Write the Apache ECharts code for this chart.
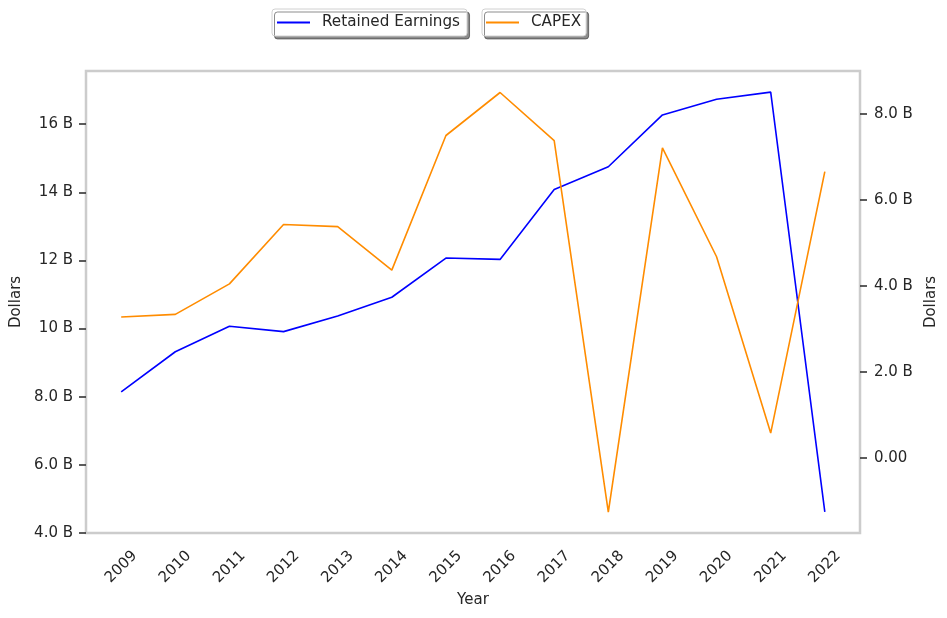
<!DOCTYPE html>
<html>
<head>
<meta charset="utf-8">
<script src="https://cdn.jsdelivr.net/npm/echarts@6/dist/echarts.min.js"></script>
<style>
html,body{margin:0;padding:0;background:#fff;}
#chart{width:947px;height:618px;}
</style>
</head>
<body>
<div id="chart"></div>
<script>
const years = [2009, 2010, 2011, 2012, 2013, 2014, 2015, 2016, 2017, 2018, 2019, 2020, 2021, 2022];
const retainedEarnings = [8.14, 9.32, 10.07, 9.91, 10.37, 10.92, 12.07, 12.03, 14.08, 14.75, 16.27, 16.73, 16.94, 4.62];
const capex = [3.28, 3.34, 4.05, 5.43, 5.38, 4.37, 7.50, 8.50, 7.38, -1.26, 7.21, 4.68, 0.58, 6.66];
const leftTicks = [4, 6, 8, 10, 12, 14, 16];
const rightTicks = [0, 2, 4, 6, 8];

const FONT = 'DejaVu Sans';
const TXT = '#262626';

function leftFmt(v) { return (Math.abs(v) < 10 ? v.toFixed(1) : v.toFixed(0)) + ' B'; }
function rightFmt(v) { return v === 0 ? '0.00' : v.toFixed(1) + ' B'; }

const chart = echarts.init(document.getElementById('chart'), null, {renderer: 'canvas'});
const legendBase = {
  orient: 'horizontal',
  top: 9,
  icon: 'rect',
  itemWidth: 33,
  itemHeight: 2,
  backgroundColor: '#ffffff',
  borderColor: '#d0d0d0',
  borderWidth: 1,
  borderRadius: 3,
  shadowColor: 'rgba(0,0,0,0.45)',
  shadowOffsetX: 2.5,
  shadowOffsetY: 3,
  shadowBlur: 0,
  padding: [5, 7, 5, 5],
  textStyle: {fontFamily: FONT, fontSize: 15.2, color: TXT, padding: [0, 0, 0, 7], lineHeight: 17}
};
chart.setOption({
  animation: false,
  legend: [
    Object.assign({}, legendBase, {left: 272, data: ['Retained Earnings']}),
    Object.assign({}, legendBase, {left: 482, padding: [5, 5, 5, 4], data: ['CAPEX']})
  ],
  grid: {
    left: 86, right: 87, top: 71, bottom: 85,
    show: true, borderColor: '#cccccc', borderWidth: 2.5, backgroundColor: 'transparent'
  },
  xAxis: {
    type: 'value',
    min: 2008.35, max: 2022.65,
    name: 'Year', nameLocation: 'middle', nameGap: 58,
    nameTextStyle: {fontFamily: FONT, fontSize: 15, color: TXT},
    axisLine: {show: false},
    axisTick: {show: false},
    splitLine: {show: false},
    axisLabel: {
      customValues: years,
      formatter: v => String(v),
      rotate: 45, align: 'center', verticalAlign: 'middle', margin: 34,
      fontFamily: FONT, fontSize: 15, color: TXT
    }
  },
  yAxis: [
    {
      type: 'value', position: 'left',
      min: 4.0, max: 17.56,
      name: 'Dollars', nameLocation: 'middle', nameGap: 53,
      nameTextStyle: {fontFamily: FONT, fontSize: 15, color: TXT},
      axisLine: {show: false},
      axisTick: {show: true, customValues: leftTicks, length: 7, lineStyle: {color: '#333333', width: 1.6}},
      splitLine: {show: false},
      axisLabel: {customValues: leftTicks, formatter: leftFmt, margin: 13, fontFamily: FONT, fontSize: 15, color: TXT}
    },
    {
      type: 'value', position: 'right',
      min: -1.744, max: 9.0,
      name: 'Dollars', nameLocation: 'middle', nameGap: 57,
      nameTextStyle: {fontFamily: FONT, fontSize: 15, color: TXT},
      axisLine: {show: false},
      axisTick: {show: true, customValues: rightTicks, length: 7, lineStyle: {color: '#333333', width: 1.6}},
      splitLine: {show: false},
      axisLabel: {customValues: rightTicks, formatter: rightFmt, margin: 14, fontFamily: FONT, fontSize: 15, color: TXT}
    }
  ],
  series: [
    {
      name: 'Retained Earnings', type: 'line', yAxisIndex: 0,
      data: years.map((y, i) => [y, retainedEarnings[i]]),
      showSymbol: false, symbol: 'none',
      lineStyle: {color: '#0000ff', width: 1.6},
      itemStyle: {color: '#0000ff'}
    },
    {
      name: 'CAPEX', type: 'line', yAxisIndex: 1,
      data: years.map((y, i) => [y, capex[i]]),
      showSymbol: false, symbol: 'none',
      lineStyle: {color: '#ff8c00', width: 1.6},
      itemStyle: {color: '#ff8c00'}
    }
  ]
});
</script>
</body>
</html>
